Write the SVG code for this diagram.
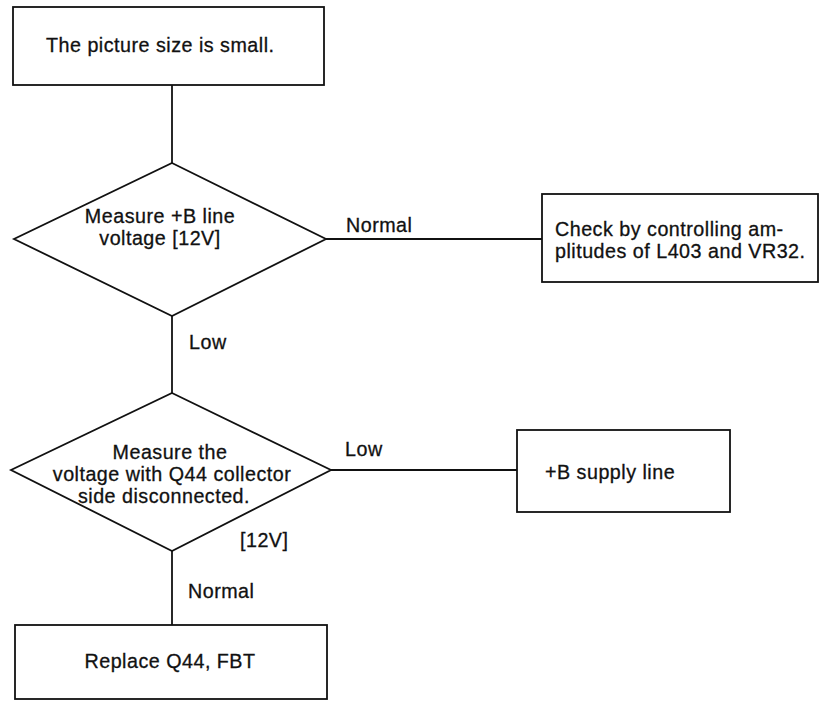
<svg xmlns="http://www.w3.org/2000/svg" width="832" height="706" viewBox="0 0 832 706">
<style>
.shape{fill:none;stroke:#111;stroke-width:1.8}
.conn{fill:none;stroke:#111;stroke-width:1.8}
text{font-family:"Liberation Sans",Arial,sans-serif;font-size:19.7px;fill:#111;stroke:#111;stroke-width:0.3;letter-spacing:0.5px}
.c{text-anchor:middle}
</style>
<rect width="832" height="706" fill="#fff"/>
<g id="connectors">
<line class="conn" x1="172" y1="85" x2="172" y2="163"/>
<line class="conn" x1="326" y1="239" x2="542" y2="239"/>
<line class="conn" x1="172" y1="316" x2="172" y2="393"/>
<line class="conn" x1="331" y1="470" x2="517" y2="470"/>
<line class="conn" x1="172" y1="551" x2="172" y2="625"/>
<text x="346" y="232">Normal</text>
<text x="189" y="349">Low</text>
<text x="345" y="456">Low</text>
<text x="188" y="598">Normal</text>
</g>
<g id="start">
<rect class="shape" x="13" y="7" width="311" height="78"/>
<text x="46" y="52">The picture size is small.</text>
</g>
<g id="decision1">
<polygon class="shape" points="172,163 326,239 172,316 14,239"/>
<text class="c" x="160" y="223">Measure +B line</text>
<text class="c" x="160" y="245">voltage [12V]</text>
</g>
<g id="check">
<rect class="shape" x="542" y="194" width="276" height="88"/>
<text x="555" y="236">Check by controlling am-</text>
<text x="555" y="258">plitudes of L403 and VR32.</text>
</g>
<g id="decision2">
<polygon class="shape" points="172,393 331,470 172,551 11,470"/>
<text class="c" x="170" y="459">Measure the</text>
<text class="c" x="172" y="481">voltage with Q44 collector</text>
<text class="c" x="164" y="503">side disconnected.</text>
<text x="240" y="547">[12V]</text>
</g>
<g id="supply">
<rect class="shape" x="517" y="430" width="213" height="82"/>
<text x="545" y="479">+B supply line</text>
</g>
<g id="replace">
<rect class="shape" x="15" y="625" width="312" height="74"/>
<text class="c" x="170" y="668">Replace Q44, FBT</text>
</g>
</svg>
